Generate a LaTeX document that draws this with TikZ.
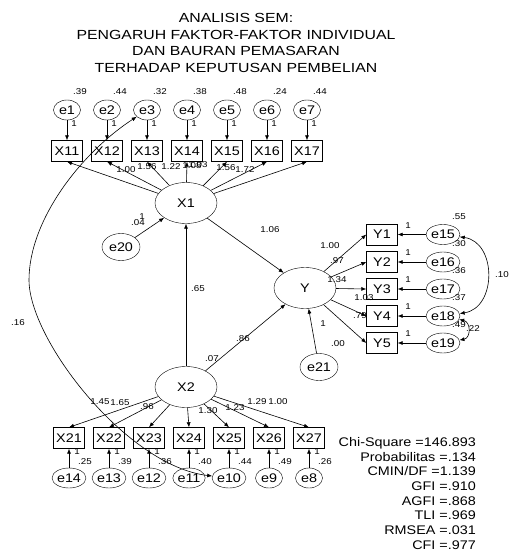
\documentclass[tikz,border=0pt]{standalone}
\usepackage{fontspec}
\setmainfont{Liberation Sans}[FakeStretch=1.15]
\newfontfamily\titlefont{Liberation Sans}[FakeStretch=1.2]
\usetikzlibrary{arrows.meta,shapes.geometric}
\begin{document}
\begin{tikzpicture}[x=1pt,y=-1pt,
  big/.style={font=\fontsize{12.5}{14}\selectfont},
  lat/.style={draw, ellipse, minimum width=62pt, minimum height=41pt, inner sep=0pt, big},
  err/.style={draw, ellipse, minimum width=27pt, minimum height=20pt, inner sep=0pt, big},
  bigerr/.style={err, minimum width=38pt, minimum height=27pt},
  obs/.style={draw, rectangle, minimum width=31pt, minimum height=21pt, inner sep=0pt, big},
  lbl/.style={font=\fontsize{8.5}{10}\selectfont, inner sep=0pt},
  arr/.style={-{Latex[length=5pt,width=4pt]}, line width=0.6pt},
  dbl/.style={{Latex[length=5pt,width=4pt]}-{Latex[length=5pt,width=4pt]}, line width=0.6pt},
  fitl/.style={font=\fontsize{12.5}{14}\selectfont, inner sep=0pt, anchor=base east}]
\useasboundingbox (0,0) rectangle (509,551);
\fill[white] (0,0) rectangle (509,551);
\node[align=center, font=\titlefont\fontsize{13.2}{16.7}\selectfont] (title) at (236,43)
  {ANALISIS SEM:\\PENGARUH FAKTOR-FAKTOR INDIVIDUAL\\DAN BAURAN PEMASARAN\\TERHADAP KEPUTUSAN PEMBELIAN};
% latent variables
\node[lat] (X1) at (186,203) {X1};
\node[lat] (X2) at (186,387) {X2};
\node[lat] (Y) at (305,288) {Y};
\node[bigerr] (e20) at (121,247) {e20};
\node[bigerr] (e21) at (319,367) {e21};
% top indicators
\foreach \i/\x/\v in {1/67/.39,2/107/.44,3/147/.32,4/187/.38,5/227/.48,6/267/.24,7/307/.44}{
  \node[err] (e\i) at (\x,110) {e\i};
  \node[obs] (X1\i) at (\x,151) {X1\i};
  \node[lbl] (v\i) at (\x+13,92) {\v};
  \node[lbl] (o\i) at (\x+7,124) {1};
  \draw[arr] (e\i) -- (X1\i);
  \draw[arr] (X1) -- (X1\i.south);
}
% bottom indicators
\foreach \i/\n/\x/\v in {1/14/69/.25,2/13/109/.39,3/12/149/.36,4/11/189/.40,5/10/229/.44,6/9/269/.49,7/8/309/.26}{
  \node[err] (e\n) at (\x,478) {e\n};
  \node[obs] (X2\i) at (\x,438) {X2\i};
  \node[lbl] (v\n) at (\x+16,462) {\v};
  \node[lbl] (o\n) at (\x+8,452) {1};
  \draw[arr] (e\n) -- (X2\i);
  \draw[arr] (X2) -- (X2\i.north);
}
% Y indicators
\foreach \i/\n/\y/\v in {1/15/234.5/.55,2/16/262/.30,3/17/289/.36,4/18/316/.37,5/19/343/.49}{
  \node[obs] (Y\i) at (382,\y) {Y\i};
  \node[err] (e\n) at (443,\y) {e\n};
  \node[lbl] (v\n) at (459,\y-18) {\v};
  \node[lbl] (o\n) at (408,\y-9) {1};
  \draw[arr] (e\n) -- (Y\i);
  \draw[arr] (Y) -- (Y\i.west);
}
% structural paths
\draw[arr] (e20) -- (X1);
\draw[arr] (X2) -- (X1);
\draw[arr] (X1) -- (Y);
\draw[arr] (X2) -- (Y);
\draw[arr] (e21) -- (Y);
% covariances
\coordinate (c16) at (29,280);
\draw[dbl] (e3) .. controls (81,153) and (29,220) .. (c16) .. controls (29,340) and (127,466) .. (e10);
\draw[dbl] (e15) .. controls (497,242) and (497,308) .. (e18);
\draw[dbl] (e18) .. controls (471,322) and (471,338) .. (e19);
% path labels
\node[lbl] (l11) at (126,170) {1.00};
\node[lbl] (l12) at (147,167) {1.56};
\node[lbl] (l13) at (171,167) {1.22};
\node[lbl] (l14) at (192,166) {1.08};
\node[lbl] (l15) at (198,165) {1.03};
\node[lbl] (l16) at (226,168) {1.56};
\node[lbl] (l17) at (245,170) {1.72};
\node[lbl] (l21) at (100,402) {1.45};
\node[lbl] (l22) at (120,403) {1.65};
\node[lbl] (l23) at (147,407) {.96};
\node[lbl] (l24) at (208,411) {1.30};
\node[lbl] (l25) at (235,408) {1.23};
\node[lbl] (l26) at (257,402) {1.29};
\node[lbl] (l27) at (278,402) {1.00};
\node[lbl] (ly1) at (330,246) {1.00};
\node[lbl] (ly2) at (337,261) {.97};
\node[lbl] (ly3) at (337,280) {1.34};
\node[lbl] (ly4) at (364,298) {1.03};
\node[lbl] (ly5) at (360,316) {.79};
\node[lbl] (p1) at (270,230) {1.06};
\node[lbl] (p2) at (198,289) {.65};
\node[lbl] (p3) at (243,339) {.86};
\node[lbl] (vx2) at (212,359) {.07};
\node[lbl] (o20) at (142,217) {1};
\node[lbl] (v20) at (138,223) {.04};
\node[lbl] (o21) at (323,324) {1};
\node[lbl] (v21) at (338,344) {.00};
\node[lbl] (c1) at (18,323) {.16};
\node[lbl] (c2) at (502,275) {.10};
\node[lbl] (c3) at (473,329) {.22};
% fit statistics
\node[fitl] (f1) at (476,446.5) {Chi-Square =146.893};
\node[fitl] (f2) at (476,461) {Probabilitas =.134};
\node[fitl] (f3) at (476,475.5) {CMIN/DF =1.139};
\node[fitl] (f4) at (476,490.5) {GFI =.910};
\node[fitl] (f5) at (476,505) {AGFI =.868};
\node[fitl] (f6) at (476,519.5) {TLI =.969};
\node[fitl] (f7) at (476,534) {RMSEA =.031};
\node[fitl] (f8) at (476,549) {CFI =.977};
\end{tikzpicture}
\end{document}
